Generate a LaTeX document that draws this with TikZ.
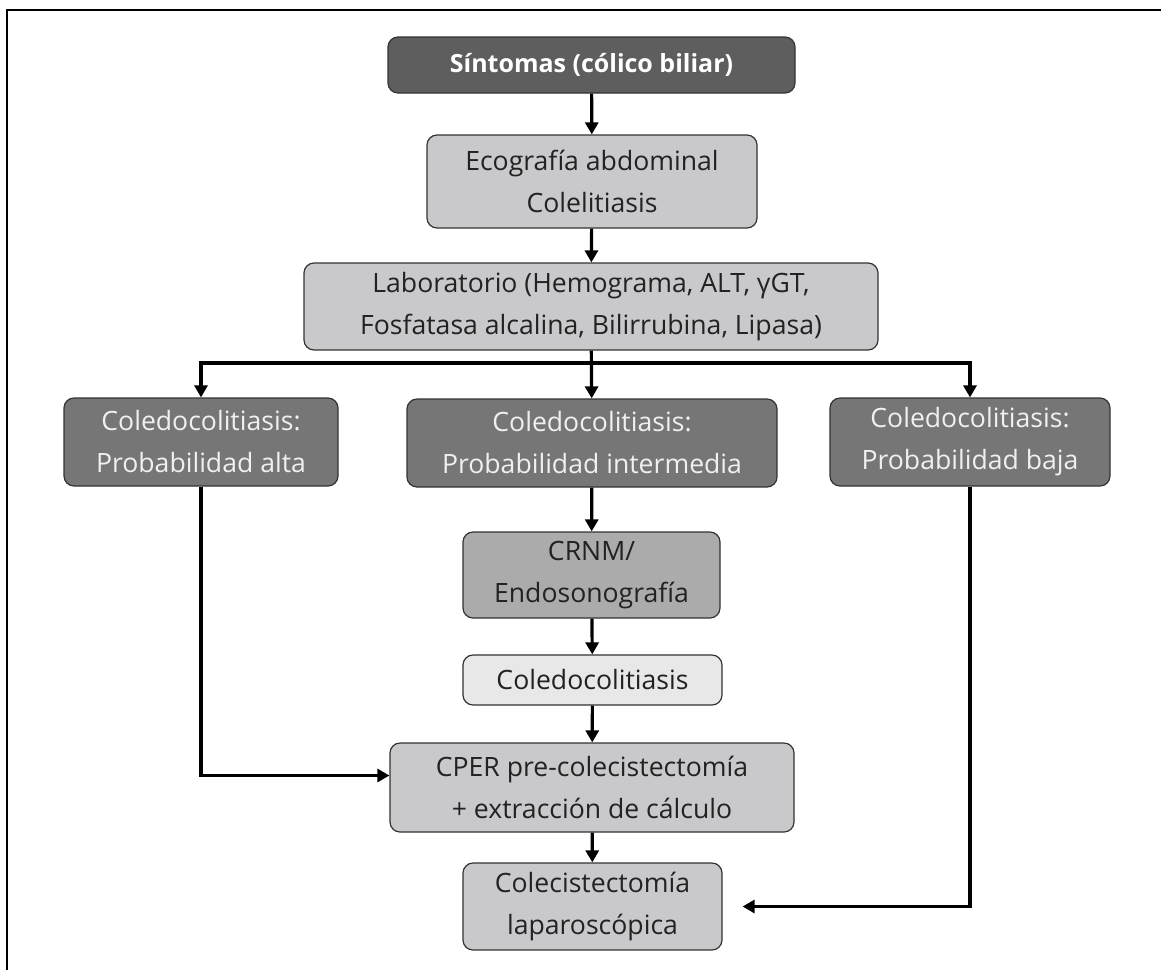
\documentclass[tikz,border=0pt]{standalone}
\usepackage{fontspec}
\setmainfont{Open Sans}
\usetikzlibrary{arrows.meta}
\definecolor{boxdark}{HTML}{5E5E5E}
\definecolor{boxmid}{HTML}{767676}
\definecolor{boxgrey}{HTML}{ABABAB}
\definecolor{boxlight}{HTML}{C9C9CC}
\definecolor{boxpale}{HTML}{E8E8E8}
\definecolor{textdark}{HTML}{222222}
\tikzset{
	box/.style={draw=black!80, line width=0.6pt, rounded corners=5pt, align=center, inner sep=0pt, text=textdark, font=\fontsize{13.3}{21}\selectfont},
	flow/.style={line width=1.6pt, -{Triangle[length=6pt, width=6.5pt]}},
}
\begin{document}
\begin{tikzpicture}[x=0.5pt, y=-0.5pt]
	\useasboundingbox (0,0) rectangle (1161,970);
	%frame
	\draw[line width=1.3pt] (7,970) -- (7,10) -- (1161,10);
	%boxes
	\node[box, fill=boxdark, text=white, font=\fontsize{12.5}{20}\selectfont\bfseries, minimum width=203.5pt, minimum height=28pt] (sintomas) at (591.5,65) {Síntomas (cólico biliar)};
	\node[box, fill=boxlight, minimum width=165pt, minimum height=46.5pt] (eco) at (592,181.5) {Ecografía abdominal\\Colelitiasis};
	\node[box, fill=boxlight, minimum width=287pt, minimum height=43.5pt] (lab) at (591,306.5) {Laboratorio (Hemograma, ALT, γGT,\\Fosfatasa alcalina, Bilirrubina, Lipasa)};
	\node[box, fill=boxmid, text=white!94!black, minimum width=137pt, minimum height=44pt] (alta) at (201,442) {Coledocolitiasis:\\Probabilidad alta};
	\node[box, fill=boxmid, text=white!94!black, minimum width=185pt, minimum height=44pt] (media) at (592,443) {Coledocolitiasis:\\Probabilidad intermedia};
	\node[box, fill=boxmid, text=white!94!black, minimum width=140pt, minimum height=44pt] (baja) at (970,442) {Coledocolitiasis:\\Probabilidad baja};
	\node[box, fill=boxgrey, minimum width=128.5pt, minimum height=43pt] (crnm) at (591.5,575) {CRNM/\\Endosonografía};
	\node[box, fill=boxpale, minimum width=129.5pt, minimum height=25pt] (coledo) at (592.5,680) {Coledocolitiasis};
	\node[box, fill=boxlight, minimum width=202pt, minimum height=44.5pt] (cper) at (592,787.5) {CPER pre-colecistectomía\\+ extracción de cálculo};
	\node[box, fill=boxlight, minimum width=129.5pt, minimum height=43.5pt] (colec) at (592.5,906.5) {Colecistectomía\\laparoscópica};
	%arrows
	\coordinate (split) at (591,363);
	\draw[flow] (sintomas) -- (eco);
	\draw[flow] (eco) -- (lab);
	\draw[flow] (lab) -- (media);
	\draw[flow] (split) -| (alta.north);
	\draw[flow] (split) -| (baja.north);
	\draw[flow] (media) -- (crnm);
	\draw[flow] (crnm) -- (coledo);
	\draw[flow] (coledo) -- (cper);
	\draw[flow] (cper) -- (colec);
	\draw[flow] (alta.south) |- ([yshift=6pt]cper.west);
	\draw[flow] (baja.south) |- ([xshift=10pt]colec.east);
\end{tikzpicture}
\end{document}
